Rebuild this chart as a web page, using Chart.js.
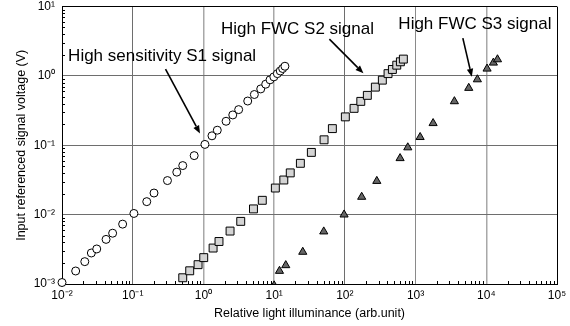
<!DOCTYPE html>
<html><head><meta charset="utf-8">
<script src="https://cdn.jsdelivr.net/npm/chart.js@4/dist/chart.umd.min.js"></script>
<style>html,body{margin:0;padding:0;background:#fff;}#wrap{width:570px;height:326px;position:relative;}</style>
</head><body><div id="wrap"><canvas id="c"></canvas></div>
<script>
// ---- data ----
const s1X = [0.0100,0.0156,0.021,0.026,0.031,0.042,0.052,0.072,0.104,0.158,0.20,0.31,0.42,0.51,0.74,1.05,1.32,1.57,2.09,2.6,3.15,4.23,5.25,6.46,7.6,8.75,9.9,11.1,12.2,13.2,14.2];
const s1Y = [0.00105,0.00154,0.0021,0.0028,0.0032,0.0044,0.0054,0.0073,0.0104,0.0154,0.0205,0.031,0.041,0.051,0.071,0.103,0.137,0.165,0.222,0.274,0.327,0.435,0.54,0.65,0.76,0.88,0.97,1.08,1.18,1.28,1.38];
const s2X = [0.51,0.64,0.84,1.01,1.37,1.66,2.38,3.37,5.1,6.8,10.4,13.7,16.9,23.5,33.6,50.8,66.6,101.6,135,168,208,270,339,408,470,542,610,672];
const s2Y = [0.00123,0.00155,0.0019,0.0024,0.0033,0.0041,0.0058,0.0080,0.0121,0.0161,0.0242,0.0316,0.040,0.055,0.079,0.12,0.174,0.257,0.341,0.43,0.525,0.69,0.87,1.08,1.24,1.43,1.60,1.75];
const s3X = [10,11.9,14.6,25.4,50.3,97.5,173,283,604,776,1160,1770,3540,5650,7480,10260,12600,14400];
const s3Y = [0.00095,0.00154,0.00186,0.0029,0.0057,0.010,0.018,0.0305,0.065,0.093,0.131,0.208,0.43,0.67,0.89,1.27,1.55,1.73];
const seriesNames = ['High sensitivity S1 signal','High FWC S2 signal','High FWC S3 signal'];
const xTickValues = [1e-2,1e-1,1e0,1e1,1e2,1e3,1e4,1e5];
const xTickLabels = ['10⁻²','10⁻¹','10⁰','10¹','10²','10³','10⁴','10⁵'];
const yTickValues = [1e-3,1e-2,1e-1,1e0,1e1];
const yTickLabels = ['10⁻³','10⁻²','10⁻¹','10⁰','10¹'];
const xTitle = 'Relative light illuminance (arb.unit)';
const yTitle = 'Input referenced signal voltage (V)';

// ---- annotation placement (data coordinates) ----
const notes = [
  {text: seriesNames[0], tx: 0.0122, ty: 1.65, from: [0.291, 1.25], to: [0.895, 0.148]},
  {text: seriesNames[1], tx: 1.77, ty: 4.04, from: [60.4, 3.39], to: [183, 1.09]},
  {text: seriesNames[2], tx: 571, ty: 4.76, from: [4660, 3.51], to: [6240, 0.975]}
];
const FONT = "'Liberation Sans', Arial, sans-serif";
const xGridColors = {'-1':'#6e6e6e','0':'#a8a8a8','1':'#a8a8a8','2':'#6e6e6e','3':'#8a8a8a','4':'#a8a8a8'};

const pts = (xs, ys) => xs.map((x, i) => ({x, y: ys[i]}));

const annotate = {
  id: 'annotate',
  afterDatasetsDraw(chart) {
    const {ctx, scales: {x, y}} = chart;
    ctx.save();
    ctx.fillStyle = '#000';
    ctx.strokeStyle = '#000';
    ctx.font = '17px ' + FONT;
    ctx.textBaseline = 'alphabetic';
    ctx.textAlign = 'left';
    notes.forEach(n => {
      ctx.fillText(n.text, x.getPixelForValue(n.tx), y.getPixelForValue(n.ty));
      const x0 = x.getPixelForValue(n.from[0]), y0 = y.getPixelForValue(n.from[1]);
      const x1 = x.getPixelForValue(n.to[0]), y1 = y.getPixelForValue(n.to[1]);
      const ang = Math.atan2(y1 - y0, x1 - x0);
      const hl = 8, hw = 3.2;
      const bx = x1 - hl * Math.cos(ang), by = y1 - hl * Math.sin(ang);
      ctx.lineWidth = 1.6;
      ctx.beginPath(); ctx.moveTo(x0, y0); ctx.lineTo(bx, by); ctx.stroke();
      ctx.beginPath();
      ctx.moveTo(x1, y1);
      ctx.lineTo(bx + hw * Math.sin(ang), by - hw * Math.cos(ang));
      ctx.lineTo(bx - hw * Math.sin(ang), by + hw * Math.cos(ang));
      ctx.closePath(); ctx.fill();
    });
    ctx.restore();
  }
};

const minorTicks = {
  id: 'minorTicks',
  beforeDatasetsDraw(chart) {
    const {ctx, scales: {x, y}, chartArea: a} = chart;
    ctx.save();
    ctx.strokeStyle = '#000';
    ctx.lineWidth = 1;
    ctx.beginPath();
    for (let e = -2; e < 5; e++) for (let k = 2; k < 10; k++) {
      const px = Math.round(x.getPixelForValue(k * Math.pow(10, e))) + 0.5;
      ctx.moveTo(px, a.bottom); ctx.lineTo(px, a.bottom - 3);
    }
    for (let e = -3; e < 1; e++) for (let k = 2; k < 10; k++) {
      const py = Math.round(y.getPixelForValue(k * Math.pow(10, e))) + 0.5;
      ctx.moveTo(a.left, py); ctx.lineTo(a.left + 3, py);
    }
    ctx.stroke();
    ctx.restore();
  }
};

new Chart(document.getElementById('c'), {
  type: 'scatter',
  data: {
    datasets: [
      {label: seriesNames[0], data: pts(s1X, s1Y), pointStyle: 'circle', pointRadius: 4, pointBackgroundColor: '#fff', pointBorderColor: '#000', pointBorderWidth: 1, clip: false},
      {label: seriesNames[1], data: pts(s2X, s2Y), pointStyle: 'rect', pointRadius: 5.6, pointBackgroundColor: '#d4d4d4', pointBorderColor: '#000', pointBorderWidth: 1, clip: false},
      {label: seriesNames[2], data: pts(s3X, s3Y), pointStyle: 'triangle', pointRadius: 4.7, pointBackgroundColor: '#666', pointBorderColor: '#000', pointBorderWidth: 1}
    ]
  },
  options: {
    responsive: true,
    maintainAspectRatio: false,
    animation: false,
    events: [],
    layout: {padding: {left: 0, right: 13, top: 5, bottom: 0}},
    plugins: {legend: {display: false}, tooltip: {enabled: false}},
    scales: {
      x: {
        type: 'logarithmic', min: 1e-2, max: 1e5,
        afterBuildTicks: s => { s.ticks = xTickValues.map(v => ({value: v})); },
        afterFit: s => { s.height = 42; s.paddingLeft = 0; s.paddingRight = 0; },
        ticks: {autoSkip: false, maxRotation: 0, padding: 4, color: '#000', font: {family: FONT, size: 12},
          callback: v => { const i = xTickValues.findIndex(t => Math.abs(t - v) / t < 1e-6); return i >= 0 ? xTickLabels[i] : ''; }},
        grid: {drawTicks: false, lineWidth: c => { const e = Math.round(Math.log10(c.tick.value)); return (e === 0 || e === 1 || e === 4) ? 1.5 : 1; },
          color: c => { const e = Math.round(Math.log10(c.tick.value)); if (e === 5) return '#000'; return xGridColors[e] || '#777'; }},
        border: {color: '#000', width: 1},
        title: {display: true, text: xTitle, color: '#000', font: {family: FONT, size: 12.5}, padding: {top: 0, bottom: 5}}
      },
      y: {
        type: 'logarithmic', min: 1e-3, max: 1e1,
        afterBuildTicks: s => { s.ticks = yTickValues.map(v => ({value: v})); },
        afterFit: s => { s.width = 62; s.paddingTop = 0; s.paddingBottom = 0; },
        ticks: {autoSkip: false, padding: 7, color: '#000', font: {family: FONT, size: 12},
          callback: v => { const i = yTickValues.findIndex(t => Math.abs(t - v) / t < 1e-6); return i >= 0 ? yTickLabels[i] : ''; }},
        grid: {drawTicks: false, color: c => { const e = Math.round(Math.log10(c.tick.value)); return e === 1 ? '#000' : '#6e6e6e'; }},
        border: {color: '#000', width: 1},
        title: {display: true, text: yTitle, color: '#000', font: {family: FONT, size: 12.5}, padding: {top: 14, bottom: 0}}
      }
    }
  },
  plugins: [minorTicks, annotate]
});
</script></body></html>
